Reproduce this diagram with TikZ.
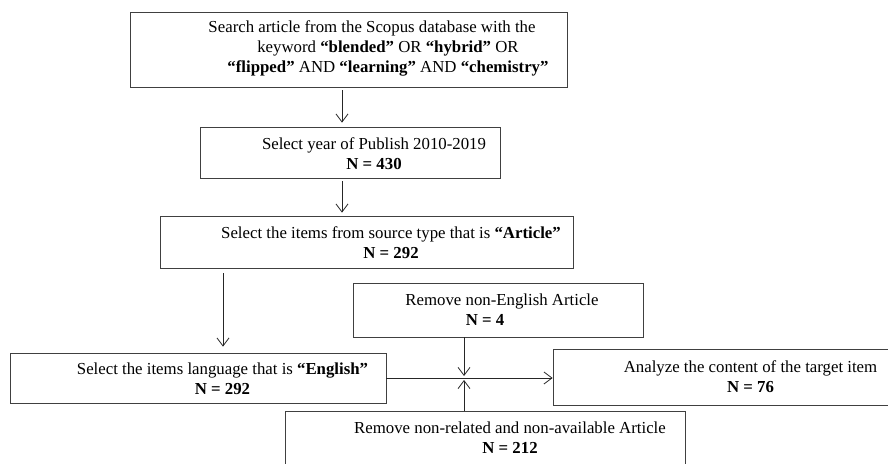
\documentclass[tikz,border=0pt]{standalone}
\usepackage{fontspec}
\setmainfont{Liberation Serif}
\usetikzlibrary{arrows.meta}
\begin{document}
\begin{tikzpicture}[x=1pt, y=-1pt,
  box/.style = {draw=black!75, line width=0.8pt, inner sep=0pt},
  txt/.style = {align=center, inner sep=0pt,
    font=\fontsize{16.8}{20}\selectfont},
  arr/.style = {draw=black!85, line width=0.8pt,
    -{Straight Barb[length=8pt,width=12pt]}}
]
  \clip (0,0) rectangle (888,463);

  % boxes
  \node[box, minimum width=437pt, minimum height=75pt] (search) at (348.5,49.5) {};
  \node[box, minimum width=300pt, minimum height=51pt] (year) at (350,152.5) {};
  \node[box, minimum width=413pt, minimum height=52pt] (article) at (366.5,242) {};
  \node[box, minimum width=376pt, minimum height=50pt] (english) at (198,378) {};
  \node[box, minimum width=290pt, minimum height=54pt] (nonenglish) at (498,310) {};
  \node[box, minimum width=340pt, minimum height=56pt] (analyze) at (723,377) {};
  \node[box, minimum width=400pt, minimum height=59pt] (nonrelated) at (485,440.5) {};

  % texts
  \node[txt] (searchtxt) at (388,48.5) {Search article from the Scopus database with the\hspace*{32pt}\\
    keyword \textbf{“blended”} OR \textbf{“hybrid”} OR\\
    \textbf{“flipped”} AND \textbf{“learning”} AND \textbf{“chemistry”}};
  \node[txt] (yeartxt) at (374,154) {Select year of Publish 2010-2019\\ \textbf{N = 430}};
  \node[txt] (articletxt) at (391,243) {Select the items from source type that is \textbf{“Article”}\\ \textbf{N = 292}};
  \node[txt] (englishtxt) at (222.5,379) {Select the items language that is \textbf{“English”}\\ \textbf{N = 292}};
  \node[txt] (nonenglishtxt) at (502,310) {Remove non-English Article\\ \textbf{N = 4}\hspace*{34pt}};
  \node[txt] (analyzetxt) at (750.5,377) {Analyze the content of the target item\\ \textbf{N = 76}};
  \node[txt] (nonrelatedtxt) at (510,438) {Remove non-related and non-available Article\\ \textbf{N = 212}};

  % arrows
  \draw[arr] ([xshift=-6.5pt,yshift=-3pt]search.south) -- ([xshift=-8pt,yshift=4pt]year.north);
  \draw[arr] ([xshift=-8pt,yshift=-3pt]year.south) -- ([xshift=-24.5pt,yshift=3pt]article.north);
  \draw[arr] ([xshift=-143.5pt,yshift=-5pt]article.south) -- ([xshift=25pt,yshift=6pt]english.north);
  \draw[arr] (english.east) -- (english.east -| analyze.west);
  \draw[arr] ([xshift=-34pt]nonenglish.south) -- ([xshift=-34pt,yshift=2pt]nonenglish.south |- english.east);
  \draw[arr] ([xshift=-21pt]nonrelated.north) -- ([xshift=-21pt,yshift=-2pt]nonrelated.north |- english.east);
\end{tikzpicture}
\end{document}
